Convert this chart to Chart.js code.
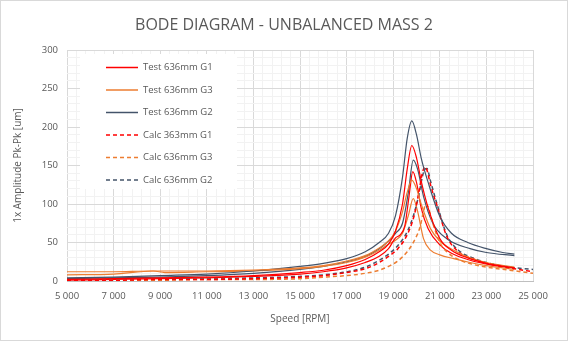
<!DOCTYPE html>
<html>
<head>
<meta charset="utf-8">
<script src="https://cdn.jsdelivr.net/npm/chart.js@4.4.0/dist/chart.umd.min.js"></script>
<style>
    body{margin:0;background:#fff;}
    #bode{display:block;}
</style>
</head>
<body>
<canvas id="bode" width="568" height="341"></canvas>
<script>
// test runs, G1 (red)
var testG1aRpm = [5000, 7000, 9000, 11000, 13000, 15000, 16000, 17000, 17800, 18400, 18800, 19100, 19400, 19600, 19800, 20000, 20200, 20500, 21000, 21500, 22200, 23000, 24200];
var testG1aAmp = [2, 3, 4, 5, 7, 11, 14, 20, 28, 38, 48, 65, 100, 145, 176, 160, 130, 95, 55, 40, 30, 23, 17];
var testG1bRpm = [5000, 7000, 9000, 11000, 13000, 15000, 16000, 17000, 17800, 18400, 18800, 19100, 19300, 19500, 19680, 19840, 20000, 20200, 20500, 21000, 21500, 22300, 23200, 24200];
var testG1bAmp = [1, 2, 3, 4, 6, 9, 12, 17, 24, 32, 42, 56, 60, 72, 110, 142, 128, 95, 68, 47, 36, 27, 21, 17];

// test runs, G3 (orange)
var testG3aRpm = [5000, 7000, 8600, 9000, 11000, 13000, 15000, 16000, 17000, 17800, 18400, 18800, 19100, 19400, 19600, 19800, 20000, 20200, 20600, 21000, 21600, 22300, 23000, 24200];
var testG3aAmp = [12, 12, 13, 13, 13, 14, 17, 20, 26, 33, 43, 52, 65, 90, 115, 131, 120, 100, 68, 52, 40, 30, 24, 18];
var testG3bRpm = [5000, 7000, 8700, 9200, 11000, 13000, 15000, 16000, 17000, 17800, 18400, 18800, 19100, 19400, 19650, 19860, 20050, 20300, 20600, 21000, 21600, 22300, 23000, 24200];
var testG3bAmp = [8, 9, 13, 11, 12, 13, 16, 19, 24, 31, 40, 48, 53, 62, 85, 107, 90, 55, 40, 34, 29, 24, 20, 15];

// test runs, G2 (grey)
var testG2aRpm = [5000, 7000, 9000, 11000, 13000, 15000, 16000, 17000, 17800, 18400, 18800, 19100, 19400, 19600, 19800, 20000, 20200, 20500, 21000, 21500, 22200, 23000, 23700, 24200];
var testG2aAmp = [4, 5, 7, 9, 13, 19, 23, 29, 38, 50, 62, 85, 135, 185, 208, 190, 160, 128, 84, 62, 50, 42, 37, 35];
var testG2bRpm = [5000, 7000, 9000, 11000, 13000, 15000, 16000, 17000, 17800, 18400, 18800, 19100, 19400, 19650, 19860, 20050, 20300, 20700, 21300, 22300, 23000, 24200];
var testG2bAmp = [3, 4, 5, 7, 10, 15, 19, 25, 32, 42, 52, 62, 75, 115, 157, 145, 110, 75, 55, 42, 37, 33];

// calculated
var calcRpm = [5000, 7000, 9000, 11000, 13000, 15000, 16000, 17000, 17800, 18400, 18800, 19200, 19600, 19900, 20100, 20250, 20350, 20450, 20600, 20900, 21300, 21800, 22500, 23000, 24000, 25000];
var calcG1Amp = [1, 1, 2, 2, 3, 5, 7, 11, 16, 24, 32, 42, 60, 85, 115, 140, 148, 144, 125, 96, 58, 38, 28, 23, 17, 12];
var calcG2Amp = [1, 2, 2, 3, 4, 6, 8, 12, 18, 27, 35, 46, 64, 88, 112, 135, 145, 146, 130, 98, 60, 40, 29, 24, 18, 15];
var calcG3Rpm = [5000, 7000, 9000, 11000, 13000, 15000, 16000, 17000, 17800, 18400, 18800, 19200, 19600, 19900, 20150, 20300, 20400, 20500, 20700, 21000, 21300, 21800, 22500, 23000, 24000, 25000];
var calcG3Amp = [1, 1, 1, 2, 2, 3, 5, 7, 10, 14, 19, 26, 38, 52, 70, 90, 100, 96, 75, 50, 38, 28, 21, 18, 14, 10];

var legendLabels = ['Test 636mm G1', 'Test 636mm G3', 'Test 636mm G2', 'Calc 363mm G1', 'Calc 636mm G3', 'Calc 636mm G2'];

var RED = '#ff0000', ORANGE = '#ed7d31', GREY = '#44546a';
var textColor = '#595959';
var fontName = '"Open Sans", sans-serif';

function toPoints(rpm, amp){
    var pts = [];
    for(var i = 0; i < rpm.length; i++){
        pts.push({x: rpm[i], y: amp[i]});
    }
    return pts;
}

function line(label, rpm, amp, color, dashed){
    return {
        label: label,
        data: toPoints(rpm, amp),
        borderColor: color,
        borderWidth: dashed ? 1.5 : 1.2,
        borderDash: dashed ? [4, 3] : [],
        pointRadius: 0,
        fill: false,
        cubicInterpolationMode: 'monotone'
    };
}

var datasets = [
    line(legendLabels[0], testG1aRpm, testG1aAmp, RED, false),
    line(legendLabels[1], testG3aRpm, testG3aAmp, ORANGE, false),
    line(legendLabels[2], testG2aRpm, testG2aAmp, GREY, false),
    line(legendLabels[3], calcRpm, calcG1Amp, RED, true),
    line(legendLabels[4], calcG3Rpm, calcG3Amp, ORANGE, true),
    line(legendLabels[5], calcRpm, calcG2Amp, GREY, true),
    // second passes of the test runs, not in legend
    line('', testG1bRpm, testG1bAmp, RED, false),
    line('', testG3bRpm, testG3bAmp, ORANGE, false),
    line('', testG2bRpm, testG2bAmp, GREY, false)
];

function spaced(v){
    return String(v).replace(/\B(?=(\d{3})+(?!\d))/g, ' ');
}

// frame, title and the boxed legend inside the plot
var decorations = {
    id: 'decorations',
    beforeDraw: function(chart){
        var ctx = chart.ctx;
        ctx.save();
        ctx.fillStyle = '#fff';
        ctx.fillRect(0, 0, chart.width, chart.height);
        ctx.restore();
    },
    afterDatasetsDraw: function(chart){
        var ctx = chart.ctx;
        ctx.save();
        ctx.fillStyle = '#fff';
        ctx.fillRect(80, 54, 157, 135);
        ctx.font = '9.5px ' + fontName;
        ctx.textBaseline = 'middle';
        ctx.textAlign = 'left';
        for(var i = 0; i < 6; i++){
            var ds = chart.data.datasets[i];
            var y = 67.5 + i * 22.5;
            ctx.beginPath();
            ctx.strokeStyle = ds.borderColor;
            ctx.lineWidth = 1.5;
            ctx.setLineDash(ds.borderDash);
            ctx.moveTo(106, y);
            ctx.lineTo(138, y);
            ctx.stroke();
            ctx.setLineDash([]);
            ctx.fillStyle = textColor;
            ctx.fillText(ds.label, 143, y);
        }
        ctx.restore();
    },
    afterDraw: function(chart){
        var ctx = chart.ctx;
        ctx.save();
        ctx.fillStyle = textColor;
        ctx.font = '16px ' + fontName;
        ctx.textAlign = 'center';
        ctx.textBaseline = 'middle';
        ctx.fillText('BODE DIAGRAM - UNBALANCED MASS 2', 284, 25);
        ctx.strokeStyle = '#d9d9d9';
        ctx.lineWidth = 1;
        ctx.strokeRect(0.5, 0.5, chart.width - 1, chart.height - 1);
        ctx.restore();
    }
};

var xTicks = [], yTicks = [];
for(var v = 5000; v <= 25000; v += 400) xTicks.push({value: v});
for(var w = 0; w <= 300; w += 10) yTicks.push({value: w});

Chart.defaults.font.family = fontName;
Chart.defaults.color = textColor;

new Chart(document.getElementById('bode').getContext('2d'), {
    type: 'line',
    data: {datasets: datasets},
    plugins: [decorations],
    options: {
        responsive: false,
        animation: false,
        layout: {padding: {top: 50, right: 35, left: 0, bottom: 0}},
        plugins: {legend: {display: false}, tooltip: {enabled: false}},
        scales: {
            x: {
                type: 'linear',
                min: 5000,
                max: 25000,
                afterBuildTicks: function(axis){ axis.ticks = xTicks.slice(); },
                afterFit: function(axis){ axis.height = 60; },
                grid: {
                    drawTicks: false,
                    color: function(c){ return (c.tick.value - 5000) % 2000 === 0 ? '#d9d9d9' : '#f2f2f2'; }
                },
                border: {display: true, color: '#bfbfbf'},
                ticks: {
                    autoSkip: false,
                    maxRotation: 0,
                    padding: 10,
                    font: {size: 9.5},
                    callback: function(val){ return (val - 5000) % 2000 === 0 ? spaced(val) : ''; }
                },
                title: {display: true, text: 'Speed [RPM]', font: {size: 10}, padding: {top: 4, bottom: 16}}
            },
            y: {
                min: 0,
                max: 300,
                afterBuildTicks: function(axis){ axis.ticks = yTicks.slice(); },
                afterFit: function(axis){ axis.width = 67; },
                grid: {
                    drawTicks: false,
                    color: function(c){ return c.tick.value % 50 === 0 ? '#d9d9d9' : '#f2f2f2'; }
                },
                border: {display: false},
                ticks: {
                    autoSkip: false,
                    padding: 9,
                    font: {size: 9.5},
                    callback: function(val){ return val % 50 === 0 ? String(val) : ''; }
                },
                title: {display: true, text: '1x Amplitude Pk-Pk [um]', font: {size: 10}, padding: {top: 12, bottom: 0}}
            }
        }
    }
});
</script>
</body>
</html>
